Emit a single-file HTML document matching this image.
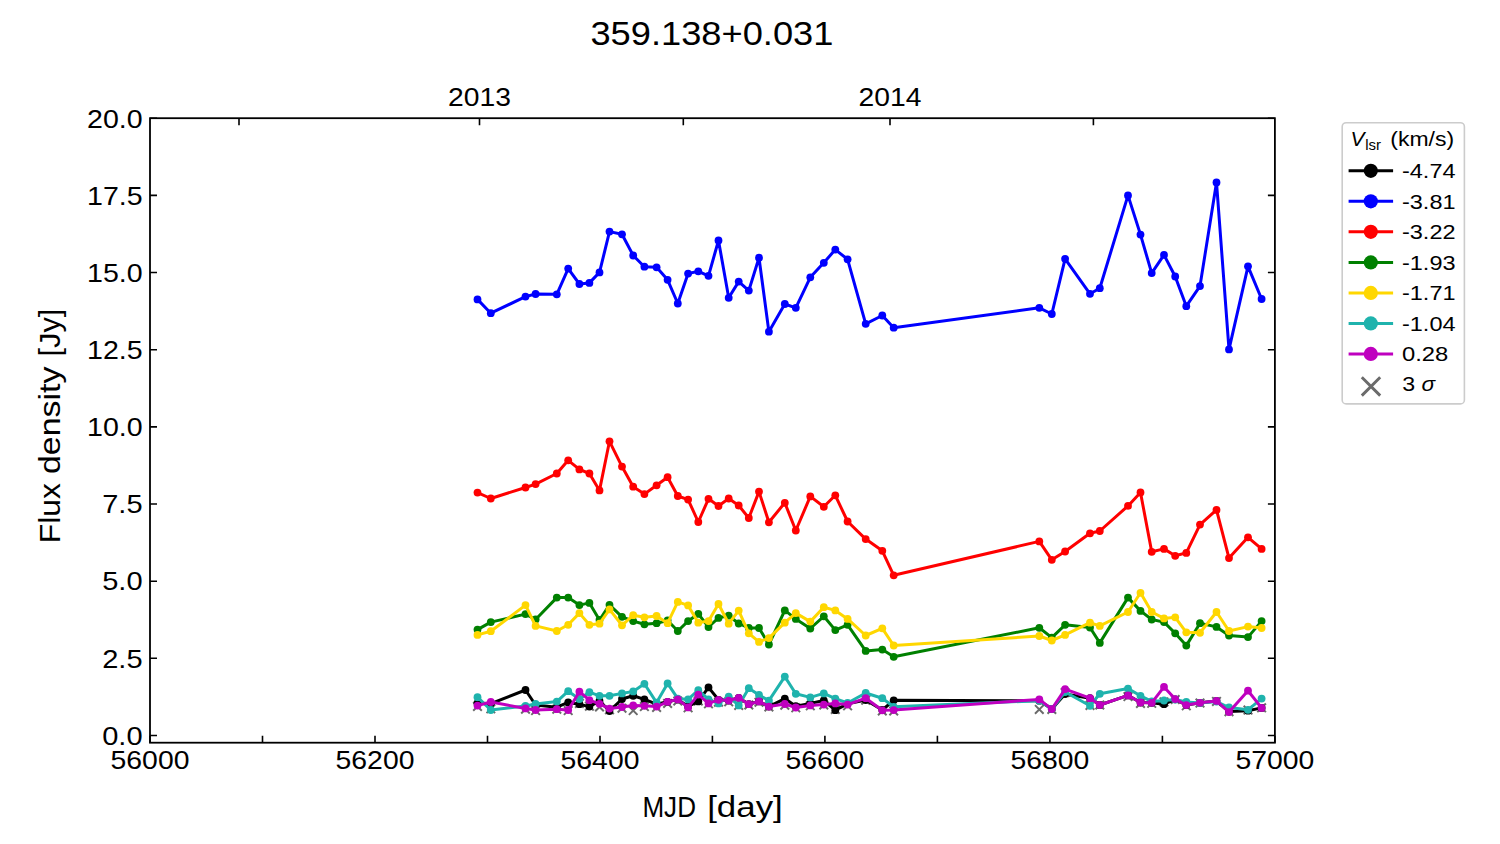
<!DOCTYPE html>
<html><head><meta charset="utf-8"><title>359.138+0.031</title>
<style>html,body{margin:0;padding:0;background:#fff;}svg{display:block;}</style>
</head><body>
<svg width="1500" height="844" viewBox="0 0 1500 844">
<rect width="1500" height="844" fill="#fff"/>
<path d="M473.2 702.1L481.8 710.7M473.2 710.7L481.8 702.1M486.5 704.5L495.1 713.1M486.5 713.1L495.1 704.5M521.2 704.9L529.8 713.5M521.2 713.5L529.8 704.9M531.3 706.3L539.9 714.9M531.3 714.9L539.9 706.3M552.5 704.9L561.1 713.5M552.5 713.5L561.1 704.9M563.9 706.3L572.5 714.9M563.9 714.9L572.5 706.3M575.1 699.1L583.7 707.7M575.1 707.7L583.7 699.1M585.1 701.9L593.7 710.5M585.1 710.5L593.7 701.9M595.2 702.7L603.8 711.3M595.2 711.3L603.8 702.7M605.2 705.5L613.8 714.1M605.2 714.1L613.8 705.5M617.7 703.9L626.3 712.5M617.7 712.5L626.3 703.9M628.9 706.3L637.5 714.9M628.9 714.9L637.5 706.3M640.1 702.3L648.7 710.9M640.1 710.9L648.7 702.3M652.3 703.1L660.9 711.7M652.3 711.7L660.9 703.1M663.3 699.1L671.9 707.7M663.3 707.7L671.9 699.1M673.5 696.7L682.1 705.3M673.5 705.3L682.1 696.7M683.8 703.5L692.4 712.1M683.8 712.1L692.4 703.5M694 696.7L702.6 705.3M694 705.3L702.6 696.7M704.2 699.5L712.8 708.1M704.2 708.1L712.8 699.5M714.2 697.9L722.8 706.5M714.2 706.5L722.8 697.9M724.4 697.5L733 706.1M724.4 706.1L733 697.5M734.4 701.1L743 709.7M734.4 709.7L743 701.1M744.5 700.7L753.1 709.3M744.5 709.3L753.1 700.7M754.7 697.9L763.3 706.5M754.7 706.5L763.3 697.9M764.6 702.7L773.2 711.3M764.6 711.3L773.2 702.7M780.5 700.9L789.1 709.5M780.5 709.5L789.1 700.9M791.5 703.5L800.1 712.1M791.5 712.1L800.1 703.5M806 701.5L814.6 710.1M806 710.1L814.6 701.5M819.5 700.7L828.1 709.3M819.5 709.3L828.1 700.7M831 705.1L839.6 713.7M831 713.7L839.6 705.1M843.3 701.5L851.9 710.1M843.3 710.1L851.9 701.5M861.4 695.9L870 704.5M861.4 704.5L870 695.9M878 706.7L886.6 715.3M878 715.3L886.6 706.7M889.4 706.7L898 715.3M889.4 715.3L898 706.7M1035 705.1L1043.6 713.7M1035 713.7L1043.6 705.1M1047.5 705.1L1056.1 713.7M1047.5 713.7L1056.1 705.1M1060.8 688.3L1069.4 696.9M1060.8 696.9L1069.4 688.3M1085.7 701.1L1094.3 709.7M1085.7 709.7L1094.3 701.1M1095.5 700.7L1104.1 709.3M1095.5 709.3L1104.1 700.7M1123.7 692.3L1132.3 700.9M1123.7 700.9L1132.3 692.3M1136.2 699.1L1144.8 707.7M1136.2 707.7L1144.8 699.1M1147.4 699L1156 707.6M1147.4 707.6L1156 699M1159.7 697.6L1168.3 706.2M1159.7 706.2L1168.3 697.6M1170.9 695.2L1179.5 703.8M1170.9 703.8L1179.5 695.2M1182 701.5L1190.6 710.1M1182 710.1L1190.6 701.5M1195.7 698.8L1204.3 707.4M1195.7 707.4L1204.3 698.8M1212.2 697.1L1220.8 705.7M1212.2 705.7L1220.8 697.1M1224.7 707.4L1233.3 716M1224.7 716L1233.3 707.4M1243.7 705.8L1252.3 714.4M1243.7 714.4L1252.3 705.8M1257.3 703.5L1265.9 712.1M1257.3 712.1L1265.9 703.5" stroke="#6b6b6b" stroke-width="2.0" fill="none"/>
<polyline points="477.5,703.2 490.8,703.6 525.5,690 535.6,705 556.8,707.2 568.2,702.4 579.4,704.2 589.4,706.6 599.5,701 609.5,711 622,699 633.2,695.8 644.4,699.4 656.6,704.2 667.6,701.8 677.8,699.6 688.1,706.5 698.3,701.4 708.5,687.4 718.5,699.8 728.7,700.6 738.7,697.8 748.8,704.2 759,701.4 768.9,706.6 784.8,698.6 795.8,706.2 810.3,703.4 823.8,700.5 835.3,710.2 847.6,703.8 865.7,700 882.3,710 893.7,700.3 1039.3,700.7 1051.8,709 1065.1,694 1090,698.2 1099.8,705 1128,695.4 1140.5,702.5 1151.7,702.8 1164,704.2 1175.2,699.3 1186.3,705 1200,702.8 1216.5,701 1229,711.5 1248,710.7 1261.6,707.9" fill="none" stroke="#000000" stroke-width="3.0" stroke-linejoin="round" stroke-linecap="round"/>
<g fill="#000000"><circle cx="477.5" cy="703.2" r="3.9"/><circle cx="490.8" cy="703.6" r="3.9"/><circle cx="525.5" cy="690" r="3.9"/><circle cx="535.6" cy="705" r="3.9"/><circle cx="556.8" cy="707.2" r="3.9"/><circle cx="568.2" cy="702.4" r="3.9"/><circle cx="579.4" cy="704.2" r="3.9"/><circle cx="589.4" cy="706.6" r="3.9"/><circle cx="599.5" cy="701" r="3.9"/><circle cx="609.5" cy="711" r="3.9"/><circle cx="622" cy="699" r="3.9"/><circle cx="633.2" cy="695.8" r="3.9"/><circle cx="644.4" cy="699.4" r="3.9"/><circle cx="656.6" cy="704.2" r="3.9"/><circle cx="667.6" cy="701.8" r="3.9"/><circle cx="677.8" cy="699.6" r="3.9"/><circle cx="688.1" cy="706.5" r="3.9"/><circle cx="698.3" cy="701.4" r="3.9"/><circle cx="708.5" cy="687.4" r="3.9"/><circle cx="718.5" cy="699.8" r="3.9"/><circle cx="728.7" cy="700.6" r="3.9"/><circle cx="738.7" cy="697.8" r="3.9"/><circle cx="748.8" cy="704.2" r="3.9"/><circle cx="759" cy="701.4" r="3.9"/><circle cx="768.9" cy="706.6" r="3.9"/><circle cx="784.8" cy="698.6" r="3.9"/><circle cx="795.8" cy="706.2" r="3.9"/><circle cx="810.3" cy="703.4" r="3.9"/><circle cx="823.8" cy="700.5" r="3.9"/><circle cx="835.3" cy="710.2" r="3.9"/><circle cx="847.6" cy="703.8" r="3.9"/><circle cx="865.7" cy="700" r="3.9"/><circle cx="882.3" cy="710" r="3.9"/><circle cx="893.7" cy="700.3" r="3.9"/><circle cx="1039.3" cy="700.7" r="3.9"/><circle cx="1051.8" cy="709" r="3.9"/><circle cx="1065.1" cy="694" r="3.9"/><circle cx="1090" cy="698.2" r="3.9"/><circle cx="1099.8" cy="705" r="3.9"/><circle cx="1128" cy="695.4" r="3.9"/><circle cx="1140.5" cy="702.5" r="3.9"/><circle cx="1151.7" cy="702.8" r="3.9"/><circle cx="1164" cy="704.2" r="3.9"/><circle cx="1175.2" cy="699.3" r="3.9"/><circle cx="1186.3" cy="705" r="3.9"/><circle cx="1200" cy="702.8" r="3.9"/><circle cx="1216.5" cy="701" r="3.9"/><circle cx="1229" cy="711.5" r="3.9"/><circle cx="1248" cy="710.7" r="3.9"/><circle cx="1261.6" cy="707.9" r="3.9"/></g>
<polyline points="477.5,299.4 490.8,313.2 525.5,296.6 535.6,294 556.8,294.3 568.2,268.6 579.4,284 589.4,282.9 599.5,272.4 609.5,231.6 622,234.3 633.2,255.5 644.4,266.7 656.6,267.3 667.6,279.8 677.8,303.5 688.1,273.6 698.3,271.3 708.5,275.8 718.5,240.5 728.7,297.8 738.7,281.6 748.8,290.6 759,257.7 768.9,331.7 784.8,304 795.8,307.8 810.3,277.3 823.8,262.8 835.3,249.6 847.6,259.3 865.7,323.8 882.3,315.5 893.7,327.7 1039.3,307.8 1051.8,314 1065.1,258.8 1090,293.8 1099.8,288.2 1128,195.4 1140.5,234.6 1151.7,273.1 1164,254.9 1175.2,276.5 1186.3,306.2 1200,286.1 1216.5,182.4 1229,349.4 1248,266.3 1261.6,299" fill="none" stroke="#0000ff" stroke-width="3.0" stroke-linejoin="round" stroke-linecap="round"/>
<g fill="#0000ff"><circle cx="477.5" cy="299.4" r="3.9"/><circle cx="490.8" cy="313.2" r="3.9"/><circle cx="525.5" cy="296.6" r="3.9"/><circle cx="535.6" cy="294" r="3.9"/><circle cx="556.8" cy="294.3" r="3.9"/><circle cx="568.2" cy="268.6" r="3.9"/><circle cx="579.4" cy="284" r="3.9"/><circle cx="589.4" cy="282.9" r="3.9"/><circle cx="599.5" cy="272.4" r="3.9"/><circle cx="609.5" cy="231.6" r="3.9"/><circle cx="622" cy="234.3" r="3.9"/><circle cx="633.2" cy="255.5" r="3.9"/><circle cx="644.4" cy="266.7" r="3.9"/><circle cx="656.6" cy="267.3" r="3.9"/><circle cx="667.6" cy="279.8" r="3.9"/><circle cx="677.8" cy="303.5" r="3.9"/><circle cx="688.1" cy="273.6" r="3.9"/><circle cx="698.3" cy="271.3" r="3.9"/><circle cx="708.5" cy="275.8" r="3.9"/><circle cx="718.5" cy="240.5" r="3.9"/><circle cx="728.7" cy="297.8" r="3.9"/><circle cx="738.7" cy="281.6" r="3.9"/><circle cx="748.8" cy="290.6" r="3.9"/><circle cx="759" cy="257.7" r="3.9"/><circle cx="768.9" cy="331.7" r="3.9"/><circle cx="784.8" cy="304" r="3.9"/><circle cx="795.8" cy="307.8" r="3.9"/><circle cx="810.3" cy="277.3" r="3.9"/><circle cx="823.8" cy="262.8" r="3.9"/><circle cx="835.3" cy="249.6" r="3.9"/><circle cx="847.6" cy="259.3" r="3.9"/><circle cx="865.7" cy="323.8" r="3.9"/><circle cx="882.3" cy="315.5" r="3.9"/><circle cx="893.7" cy="327.7" r="3.9"/><circle cx="1039.3" cy="307.8" r="3.9"/><circle cx="1051.8" cy="314" r="3.9"/><circle cx="1065.1" cy="258.8" r="3.9"/><circle cx="1090" cy="293.8" r="3.9"/><circle cx="1099.8" cy="288.2" r="3.9"/><circle cx="1128" cy="195.4" r="3.9"/><circle cx="1140.5" cy="234.6" r="3.9"/><circle cx="1151.7" cy="273.1" r="3.9"/><circle cx="1164" cy="254.9" r="3.9"/><circle cx="1175.2" cy="276.5" r="3.9"/><circle cx="1186.3" cy="306.2" r="3.9"/><circle cx="1200" cy="286.1" r="3.9"/><circle cx="1216.5" cy="182.4" r="3.9"/><circle cx="1229" cy="349.4" r="3.9"/><circle cx="1248" cy="266.3" r="3.9"/><circle cx="1261.6" cy="299" r="3.9"/></g>
<polyline points="477.5,492.6 490.8,498.5 525.5,487.5 535.6,484.1 556.8,473.5 568.2,460.3 579.4,469.4 589.4,473.5 599.5,490.4 609.5,441.3 622,466.6 633.2,486.7 644.4,494.1 656.6,485.3 667.6,477.2 677.8,496 688.1,499.6 698.3,522 708.5,498.8 718.5,506 728.7,498.5 738.7,505.5 748.8,518 759,491.6 768.9,522.3 784.8,502.8 795.8,530.5 810.3,496.4 823.8,506.8 835.3,495.3 847.6,521.5 865.7,539.1 882.3,550.8 893.7,575.3 1039.3,541.4 1051.8,559.8 1065.1,551.5 1090,533.3 1099.8,531 1128,505.9 1140.5,492.5 1151.7,551.8 1164,548.9 1175.2,555.8 1186.3,552.9 1200,524.6 1216.5,509.9 1229,558.1 1248,537.3 1261.6,548.9" fill="none" stroke="#ff0000" stroke-width="3.0" stroke-linejoin="round" stroke-linecap="round"/>
<g fill="#ff0000"><circle cx="477.5" cy="492.6" r="3.9"/><circle cx="490.8" cy="498.5" r="3.9"/><circle cx="525.5" cy="487.5" r="3.9"/><circle cx="535.6" cy="484.1" r="3.9"/><circle cx="556.8" cy="473.5" r="3.9"/><circle cx="568.2" cy="460.3" r="3.9"/><circle cx="579.4" cy="469.4" r="3.9"/><circle cx="589.4" cy="473.5" r="3.9"/><circle cx="599.5" cy="490.4" r="3.9"/><circle cx="609.5" cy="441.3" r="3.9"/><circle cx="622" cy="466.6" r="3.9"/><circle cx="633.2" cy="486.7" r="3.9"/><circle cx="644.4" cy="494.1" r="3.9"/><circle cx="656.6" cy="485.3" r="3.9"/><circle cx="667.6" cy="477.2" r="3.9"/><circle cx="677.8" cy="496" r="3.9"/><circle cx="688.1" cy="499.6" r="3.9"/><circle cx="698.3" cy="522" r="3.9"/><circle cx="708.5" cy="498.8" r="3.9"/><circle cx="718.5" cy="506" r="3.9"/><circle cx="728.7" cy="498.5" r="3.9"/><circle cx="738.7" cy="505.5" r="3.9"/><circle cx="748.8" cy="518" r="3.9"/><circle cx="759" cy="491.6" r="3.9"/><circle cx="768.9" cy="522.3" r="3.9"/><circle cx="784.8" cy="502.8" r="3.9"/><circle cx="795.8" cy="530.5" r="3.9"/><circle cx="810.3" cy="496.4" r="3.9"/><circle cx="823.8" cy="506.8" r="3.9"/><circle cx="835.3" cy="495.3" r="3.9"/><circle cx="847.6" cy="521.5" r="3.9"/><circle cx="865.7" cy="539.1" r="3.9"/><circle cx="882.3" cy="550.8" r="3.9"/><circle cx="893.7" cy="575.3" r="3.9"/><circle cx="1039.3" cy="541.4" r="3.9"/><circle cx="1051.8" cy="559.8" r="3.9"/><circle cx="1065.1" cy="551.5" r="3.9"/><circle cx="1090" cy="533.3" r="3.9"/><circle cx="1099.8" cy="531" r="3.9"/><circle cx="1128" cy="505.9" r="3.9"/><circle cx="1140.5" cy="492.5" r="3.9"/><circle cx="1151.7" cy="551.8" r="3.9"/><circle cx="1164" cy="548.9" r="3.9"/><circle cx="1175.2" cy="555.8" r="3.9"/><circle cx="1186.3" cy="552.9" r="3.9"/><circle cx="1200" cy="524.6" r="3.9"/><circle cx="1216.5" cy="509.9" r="3.9"/><circle cx="1229" cy="558.1" r="3.9"/><circle cx="1248" cy="537.3" r="3.9"/><circle cx="1261.6" cy="548.9" r="3.9"/></g>
<polyline points="477.5,629.6 490.8,622.1 525.5,614.1 535.6,619.5 556.8,597.6 568.2,597.6 579.4,605.1 589.4,602.9 599.5,620 609.5,604.8 622,616.8 633.2,621.1 644.4,624.3 656.6,623.2 667.6,620.5 677.8,631 688.1,621.1 698.3,613.9 708.5,627 718.5,617.9 728.7,615.7 738.7,623.5 748.8,628 759,628 768.9,644.5 784.8,610.4 795.8,618.9 810.3,628.5 823.8,616.3 835.3,630.1 847.6,624.8 865.7,650.9 882.3,649.6 893.7,656.8 1039.3,627.8 1051.8,637.6 1065.1,624.8 1090,627.5 1099.8,642.9 1128,597.6 1140.5,610.9 1151.7,619.5 1164,622.1 1175.2,633.3 1186.3,645.6 1200,623.2 1216.5,626.9 1229,635.5 1248,637.1 1261.6,621.1" fill="none" stroke="#008000" stroke-width="3.0" stroke-linejoin="round" stroke-linecap="round"/>
<g fill="#008000"><circle cx="477.5" cy="629.6" r="3.9"/><circle cx="490.8" cy="622.1" r="3.9"/><circle cx="525.5" cy="614.1" r="3.9"/><circle cx="535.6" cy="619.5" r="3.9"/><circle cx="556.8" cy="597.6" r="3.9"/><circle cx="568.2" cy="597.6" r="3.9"/><circle cx="579.4" cy="605.1" r="3.9"/><circle cx="589.4" cy="602.9" r="3.9"/><circle cx="599.5" cy="620" r="3.9"/><circle cx="609.5" cy="604.8" r="3.9"/><circle cx="622" cy="616.8" r="3.9"/><circle cx="633.2" cy="621.1" r="3.9"/><circle cx="644.4" cy="624.3" r="3.9"/><circle cx="656.6" cy="623.2" r="3.9"/><circle cx="667.6" cy="620.5" r="3.9"/><circle cx="677.8" cy="631" r="3.9"/><circle cx="688.1" cy="621.1" r="3.9"/><circle cx="698.3" cy="613.9" r="3.9"/><circle cx="708.5" cy="627" r="3.9"/><circle cx="718.5" cy="617.9" r="3.9"/><circle cx="728.7" cy="615.7" r="3.9"/><circle cx="738.7" cy="623.5" r="3.9"/><circle cx="748.8" cy="628" r="3.9"/><circle cx="759" cy="628" r="3.9"/><circle cx="768.9" cy="644.5" r="3.9"/><circle cx="784.8" cy="610.4" r="3.9"/><circle cx="795.8" cy="618.9" r="3.9"/><circle cx="810.3" cy="628.5" r="3.9"/><circle cx="823.8" cy="616.3" r="3.9"/><circle cx="835.3" cy="630.1" r="3.9"/><circle cx="847.6" cy="624.8" r="3.9"/><circle cx="865.7" cy="650.9" r="3.9"/><circle cx="882.3" cy="649.6" r="3.9"/><circle cx="893.7" cy="656.8" r="3.9"/><circle cx="1039.3" cy="627.8" r="3.9"/><circle cx="1051.8" cy="637.6" r="3.9"/><circle cx="1065.1" cy="624.8" r="3.9"/><circle cx="1090" cy="627.5" r="3.9"/><circle cx="1099.8" cy="642.9" r="3.9"/><circle cx="1128" cy="597.6" r="3.9"/><circle cx="1140.5" cy="610.9" r="3.9"/><circle cx="1151.7" cy="619.5" r="3.9"/><circle cx="1164" cy="622.1" r="3.9"/><circle cx="1175.2" cy="633.3" r="3.9"/><circle cx="1186.3" cy="645.6" r="3.9"/><circle cx="1200" cy="623.2" r="3.9"/><circle cx="1216.5" cy="626.9" r="3.9"/><circle cx="1229" cy="635.5" r="3.9"/><circle cx="1248" cy="637.1" r="3.9"/><circle cx="1261.6" cy="621.1" r="3.9"/></g>
<polyline points="477.5,634.9 490.8,631.2 525.5,605.1 535.6,625.9 556.8,631 568.2,624.8 579.4,613.1 589.4,624.8 599.5,623.7 609.5,609.4 622,625.3 633.2,615.2 644.4,617.3 656.6,616 667.6,623.2 677.8,601.9 688.1,605.4 698.3,622.7 708.5,621.1 718.5,604 728.7,623.7 738.7,610.6 748.8,633.3 759,641.9 768.9,638.1 784.8,622.7 795.8,613.1 810.3,621.6 823.8,607.2 835.3,610.4 847.6,618.9 865.7,635.5 882.3,628.3 893.7,645.5 1039.3,636 1051.8,640.5 1065.1,634.9 1090,622.7 1099.8,625.9 1128,612 1140.5,592.8 1151.7,612 1164,618.4 1175.2,617.3 1186.3,632.3 1200,632.8 1216.5,612 1229,631 1248,626.6 1261.6,628" fill="none" stroke="#ffd700" stroke-width="3.0" stroke-linejoin="round" stroke-linecap="round"/>
<g fill="#ffd700"><circle cx="477.5" cy="634.9" r="3.9"/><circle cx="490.8" cy="631.2" r="3.9"/><circle cx="525.5" cy="605.1" r="3.9"/><circle cx="535.6" cy="625.9" r="3.9"/><circle cx="556.8" cy="631" r="3.9"/><circle cx="568.2" cy="624.8" r="3.9"/><circle cx="579.4" cy="613.1" r="3.9"/><circle cx="589.4" cy="624.8" r="3.9"/><circle cx="599.5" cy="623.7" r="3.9"/><circle cx="609.5" cy="609.4" r="3.9"/><circle cx="622" cy="625.3" r="3.9"/><circle cx="633.2" cy="615.2" r="3.9"/><circle cx="644.4" cy="617.3" r="3.9"/><circle cx="656.6" cy="616" r="3.9"/><circle cx="667.6" cy="623.2" r="3.9"/><circle cx="677.8" cy="601.9" r="3.9"/><circle cx="688.1" cy="605.4" r="3.9"/><circle cx="698.3" cy="622.7" r="3.9"/><circle cx="708.5" cy="621.1" r="3.9"/><circle cx="718.5" cy="604" r="3.9"/><circle cx="728.7" cy="623.7" r="3.9"/><circle cx="738.7" cy="610.6" r="3.9"/><circle cx="748.8" cy="633.3" r="3.9"/><circle cx="759" cy="641.9" r="3.9"/><circle cx="768.9" cy="638.1" r="3.9"/><circle cx="784.8" cy="622.7" r="3.9"/><circle cx="795.8" cy="613.1" r="3.9"/><circle cx="810.3" cy="621.6" r="3.9"/><circle cx="823.8" cy="607.2" r="3.9"/><circle cx="835.3" cy="610.4" r="3.9"/><circle cx="847.6" cy="618.9" r="3.9"/><circle cx="865.7" cy="635.5" r="3.9"/><circle cx="882.3" cy="628.3" r="3.9"/><circle cx="893.7" cy="645.5" r="3.9"/><circle cx="1039.3" cy="636" r="3.9"/><circle cx="1051.8" cy="640.5" r="3.9"/><circle cx="1065.1" cy="634.9" r="3.9"/><circle cx="1090" cy="622.7" r="3.9"/><circle cx="1099.8" cy="625.9" r="3.9"/><circle cx="1128" cy="612" r="3.9"/><circle cx="1140.5" cy="592.8" r="3.9"/><circle cx="1151.7" cy="612" r="3.9"/><circle cx="1164" cy="618.4" r="3.9"/><circle cx="1175.2" cy="617.3" r="3.9"/><circle cx="1186.3" cy="632.3" r="3.9"/><circle cx="1200" cy="632.8" r="3.9"/><circle cx="1216.5" cy="612" r="3.9"/><circle cx="1229" cy="631" r="3.9"/><circle cx="1248" cy="626.6" r="3.9"/><circle cx="1261.6" cy="628" r="3.9"/></g>
<polyline points="477.5,697.2 490.8,710 525.5,706 535.6,704 556.8,701.6 568.2,691.2 579.4,699 589.4,692.2 599.5,695.8 609.5,695.8 622,693.4 633.2,691.4 644.4,683.8 656.6,702.6 667.6,683.4 677.8,698.6 688.1,699.4 698.3,690.2 708.5,699.4 718.5,703.4 728.7,696.6 738.7,705.4 748.8,688.2 759,695 768.9,700.6 784.8,676.6 795.8,693.8 810.3,697.4 823.8,693.4 835.3,698.6 847.6,703 865.7,693 882.3,698.2 893.7,706.8 1039.3,700.7 1051.8,709 1065.1,692 1090,705.8 1099.8,693.8 1128,688.6 1140.5,695.8 1151.7,701.4 1164,700.5 1175.2,699.5 1186.3,701.9 1200,703 1216.5,701.5 1229,707.5 1248,709.8 1261.6,698.6" fill="none" stroke="#1fb3ad" stroke-width="3.0" stroke-linejoin="round" stroke-linecap="round"/>
<g fill="#1fb3ad"><circle cx="477.5" cy="697.2" r="3.9"/><circle cx="490.8" cy="710" r="3.9"/><circle cx="525.5" cy="706" r="3.9"/><circle cx="535.6" cy="704" r="3.9"/><circle cx="556.8" cy="701.6" r="3.9"/><circle cx="568.2" cy="691.2" r="3.9"/><circle cx="579.4" cy="699" r="3.9"/><circle cx="589.4" cy="692.2" r="3.9"/><circle cx="599.5" cy="695.8" r="3.9"/><circle cx="609.5" cy="695.8" r="3.9"/><circle cx="622" cy="693.4" r="3.9"/><circle cx="633.2" cy="691.4" r="3.9"/><circle cx="644.4" cy="683.8" r="3.9"/><circle cx="656.6" cy="702.6" r="3.9"/><circle cx="667.6" cy="683.4" r="3.9"/><circle cx="677.8" cy="698.6" r="3.9"/><circle cx="688.1" cy="699.4" r="3.9"/><circle cx="698.3" cy="690.2" r="3.9"/><circle cx="708.5" cy="699.4" r="3.9"/><circle cx="718.5" cy="703.4" r="3.9"/><circle cx="728.7" cy="696.6" r="3.9"/><circle cx="738.7" cy="705.4" r="3.9"/><circle cx="748.8" cy="688.2" r="3.9"/><circle cx="759" cy="695" r="3.9"/><circle cx="768.9" cy="700.6" r="3.9"/><circle cx="784.8" cy="676.6" r="3.9"/><circle cx="795.8" cy="693.8" r="3.9"/><circle cx="810.3" cy="697.4" r="3.9"/><circle cx="823.8" cy="693.4" r="3.9"/><circle cx="835.3" cy="698.6" r="3.9"/><circle cx="847.6" cy="703" r="3.9"/><circle cx="865.7" cy="693" r="3.9"/><circle cx="882.3" cy="698.2" r="3.9"/><circle cx="893.7" cy="706.8" r="3.9"/><circle cx="1039.3" cy="700.7" r="3.9"/><circle cx="1051.8" cy="709" r="3.9"/><circle cx="1065.1" cy="692" r="3.9"/><circle cx="1090" cy="705.8" r="3.9"/><circle cx="1099.8" cy="693.8" r="3.9"/><circle cx="1128" cy="688.6" r="3.9"/><circle cx="1140.5" cy="695.8" r="3.9"/><circle cx="1151.7" cy="701.4" r="3.9"/><circle cx="1164" cy="700.5" r="3.9"/><circle cx="1175.2" cy="699.5" r="3.9"/><circle cx="1186.3" cy="701.9" r="3.9"/><circle cx="1200" cy="703" r="3.9"/><circle cx="1216.5" cy="701.5" r="3.9"/><circle cx="1229" cy="707.5" r="3.9"/><circle cx="1248" cy="709.8" r="3.9"/><circle cx="1261.6" cy="698.6" r="3.9"/></g>
<polyline points="477.5,705.6 490.8,702 525.5,708.4 535.6,710 556.8,709.2 568.2,710 579.4,691.7 589.4,700.2 599.5,703.8 609.5,708.6 622,707 633.2,705.4 644.4,705.8 656.6,706.6 667.6,701.8 677.8,699.4 688.1,707.4 698.3,694.6 708.5,703.4 718.5,699.8 728.7,700.6 738.7,697.8 748.8,704.2 759,701.4 768.9,706.6 784.8,704 795.8,707.5 810.3,705.4 823.8,704.6 835.3,703.4 847.6,704.6 865.7,698.2 882.3,710.3 893.7,710.1 1039.3,699.4 1051.8,709.1 1065.1,689.1 1090,698.2 1099.8,705 1128,695.4 1140.5,702.5 1151.7,702.8 1164,686.9 1175.2,699.1 1186.3,705.1 1200,702.8 1216.5,700.9 1229,712.1 1248,690.7 1261.6,707.9" fill="none" stroke="#bf00bf" stroke-width="3.0" stroke-linejoin="round" stroke-linecap="round"/>
<g fill="#bf00bf"><circle cx="477.5" cy="705.6" r="3.9"/><circle cx="490.8" cy="702" r="3.9"/><circle cx="525.5" cy="708.4" r="3.9"/><circle cx="535.6" cy="710" r="3.9"/><circle cx="556.8" cy="709.2" r="3.9"/><circle cx="568.2" cy="710" r="3.9"/><circle cx="579.4" cy="691.7" r="3.9"/><circle cx="589.4" cy="700.2" r="3.9"/><circle cx="599.5" cy="703.8" r="3.9"/><circle cx="609.5" cy="708.6" r="3.9"/><circle cx="622" cy="707" r="3.9"/><circle cx="633.2" cy="705.4" r="3.9"/><circle cx="644.4" cy="705.8" r="3.9"/><circle cx="656.6" cy="706.6" r="3.9"/><circle cx="667.6" cy="701.8" r="3.9"/><circle cx="677.8" cy="699.4" r="3.9"/><circle cx="688.1" cy="707.4" r="3.9"/><circle cx="698.3" cy="694.6" r="3.9"/><circle cx="708.5" cy="703.4" r="3.9"/><circle cx="718.5" cy="699.8" r="3.9"/><circle cx="728.7" cy="700.6" r="3.9"/><circle cx="738.7" cy="697.8" r="3.9"/><circle cx="748.8" cy="704.2" r="3.9"/><circle cx="759" cy="701.4" r="3.9"/><circle cx="768.9" cy="706.6" r="3.9"/><circle cx="784.8" cy="704" r="3.9"/><circle cx="795.8" cy="707.5" r="3.9"/><circle cx="810.3" cy="705.4" r="3.9"/><circle cx="823.8" cy="704.6" r="3.9"/><circle cx="835.3" cy="703.4" r="3.9"/><circle cx="847.6" cy="704.6" r="3.9"/><circle cx="865.7" cy="698.2" r="3.9"/><circle cx="882.3" cy="710.3" r="3.9"/><circle cx="893.7" cy="710.1" r="3.9"/><circle cx="1039.3" cy="699.4" r="3.9"/><circle cx="1051.8" cy="709.1" r="3.9"/><circle cx="1065.1" cy="689.1" r="3.9"/><circle cx="1090" cy="698.2" r="3.9"/><circle cx="1099.8" cy="705" r="3.9"/><circle cx="1128" cy="695.4" r="3.9"/><circle cx="1140.5" cy="702.5" r="3.9"/><circle cx="1151.7" cy="702.8" r="3.9"/><circle cx="1164" cy="686.9" r="3.9"/><circle cx="1175.2" cy="699.1" r="3.9"/><circle cx="1186.3" cy="705.1" r="3.9"/><circle cx="1200" cy="702.8" r="3.9"/><circle cx="1216.5" cy="700.9" r="3.9"/><circle cx="1229" cy="712.1" r="3.9"/><circle cx="1248" cy="690.7" r="3.9"/><circle cx="1261.6" cy="707.9" r="3.9"/></g>
<path d="M150 735.5h7.0M1274.9 735.5h-7.0M150 658.3h7.0M1274.9 658.3h-7.0M150 581.2h7.0M1274.9 581.2h-7.0M150 504h7.0M1274.9 504h-7.0M150 426.9h7.0M1274.9 426.9h-7.0M150 349.7h7.0M1274.9 349.7h-7.0M150 272.5h7.0M1274.9 272.5h-7.0M150 195.4h7.0M1274.9 195.4h-7.0M150 118.2h7.0M1274.9 118.2h-7.0M150 742.7v-7.0M262.5 742.7v-7.0M375 742.7v-7.0M487.5 742.7v-7.0M600 742.7v-7.0M712.4 742.7v-7.0M824.9 742.7v-7.0M937.4 742.7v-7.0M1049.9 742.7v-7.0M1162.4 742.7v-7.0M1274.9 742.7v-7.0M239 118.2v7.0M479.5 118.2v7.0M683.3 118.2v7.0M890 118.2v7.0M1093.4 118.2v7.0" stroke="#000" stroke-width="1.6" fill="none"/>
<rect x="150.0" y="118.2" width="1124.9" height="624.5" fill="none" stroke="#000" stroke-width="1.8"/>
<g font-family="Liberation Sans, sans-serif" fill="#000"><text x="142.6" y="744.8" text-anchor="end" font-size="25" textLength="40.4" lengthAdjust="spacingAndGlyphs">0.0</text>
<text x="142.6" y="667.6" text-anchor="end" font-size="25" textLength="40.4" lengthAdjust="spacingAndGlyphs">2.5</text>
<text x="142.6" y="590.4" text-anchor="end" font-size="25" textLength="40.4" lengthAdjust="spacingAndGlyphs">5.0</text>
<text x="142.6" y="513.3" text-anchor="end" font-size="25" textLength="40.4" lengthAdjust="spacingAndGlyphs">7.5</text>
<text x="142.6" y="436.1" text-anchor="end" font-size="25" textLength="55.6" lengthAdjust="spacingAndGlyphs">10.0</text>
<text x="142.6" y="358.9" text-anchor="end" font-size="25" textLength="55.6" lengthAdjust="spacingAndGlyphs">12.5</text>
<text x="142.6" y="281.8" text-anchor="end" font-size="25" textLength="55.6" lengthAdjust="spacingAndGlyphs">15.0</text>
<text x="142.6" y="204.6" text-anchor="end" font-size="25" textLength="55.6" lengthAdjust="spacingAndGlyphs">17.5</text>
<text x="142.6" y="127.5" text-anchor="end" font-size="25" textLength="55.6" lengthAdjust="spacingAndGlyphs">20.0</text>
<text x="150" y="769.2" text-anchor="middle" font-size="25" textLength="78.9" lengthAdjust="spacingAndGlyphs">56000</text>
<text x="375" y="769.2" text-anchor="middle" font-size="25" textLength="78.9" lengthAdjust="spacingAndGlyphs">56200</text>
<text x="600" y="769.2" text-anchor="middle" font-size="25" textLength="78.9" lengthAdjust="spacingAndGlyphs">56400</text>
<text x="824.9" y="769.2" text-anchor="middle" font-size="25" textLength="78.9" lengthAdjust="spacingAndGlyphs">56600</text>
<text x="1049.9" y="769.2" text-anchor="middle" font-size="25" textLength="78.9" lengthAdjust="spacingAndGlyphs">56800</text>
<text x="1274.9" y="769.2" text-anchor="middle" font-size="25" textLength="78.9" lengthAdjust="spacingAndGlyphs">57000</text>
<text x="479.5" y="105.9" text-anchor="middle" font-size="25" textLength="62.9" lengthAdjust="spacingAndGlyphs">2013</text>
<text x="890" y="105.9" text-anchor="middle" font-size="25" textLength="62.9" lengthAdjust="spacingAndGlyphs">2014</text>
<text x="711.9" y="44.9" text-anchor="middle" font-size="32.5" textLength="243" lengthAdjust="spacingAndGlyphs">359.138+0.031</text>
<text x="642.4" y="816.8" font-size="29.5" textLength="53.6" lengthAdjust="spacingAndGlyphs">MJD</text>
<text x="707.2" y="816.8" font-size="29.5" textLength="75.6" lengthAdjust="spacingAndGlyphs">[day]</text>
<text transform="translate(60.2 543.2) rotate(-90)" x="0" y="0" font-size="29.5" textLength="60" lengthAdjust="spacingAndGlyphs">Flux</text>
<text transform="translate(60.2 474) rotate(-90)" x="0" y="0" font-size="29.5" textLength="107.5" lengthAdjust="spacingAndGlyphs">density</text>
<text transform="translate(60.2 356.6) rotate(-90)" x="0" y="0" font-size="29.5" textLength="48" lengthAdjust="spacingAndGlyphs">[Jy]</text></g>
<g font-family="Liberation Sans, sans-serif" fill="#000"><rect x="1342.2" y="122.7" width="122.2" height="281.2" rx="4" ry="4" fill="#fff" fill-opacity="0.8" stroke="#cccccc" stroke-width="1.6"/>
<text x="1350.6" y="146.4" font-size="21" font-style="italic">V</text>
<text x="1365.3" y="149.7" font-size="14" textLength="15.8" lengthAdjust="spacingAndGlyphs">lsr</text>
<text x="1390.3" y="146" font-size="20" textLength="63.8" lengthAdjust="spacingAndGlyphs">(km/s)</text>
<path d="M1348.6 170.8H1393.1" stroke="#000000" stroke-width="3.0"/>
<circle cx="1370.8" cy="170.8" r="7.1" fill="#000000"/>
<text x="1402" y="178" font-size="20" textLength="53.5" lengthAdjust="spacingAndGlyphs">-4.74</text>
<path d="M1348.6 201.3H1393.1" stroke="#0000ff" stroke-width="3.0"/>
<circle cx="1370.8" cy="201.3" r="7.1" fill="#0000ff"/>
<text x="1402" y="208.5" font-size="20" textLength="53.5" lengthAdjust="spacingAndGlyphs">-3.81</text>
<path d="M1348.6 231.8H1393.1" stroke="#ff0000" stroke-width="3.0"/>
<circle cx="1370.8" cy="231.8" r="7.1" fill="#ff0000"/>
<text x="1402" y="239" font-size="20" textLength="53.5" lengthAdjust="spacingAndGlyphs">-3.22</text>
<path d="M1348.6 262.4H1393.1" stroke="#008000" stroke-width="3.0"/>
<circle cx="1370.8" cy="262.4" r="7.1" fill="#008000"/>
<text x="1402" y="269.6" font-size="20" textLength="53.5" lengthAdjust="spacingAndGlyphs">-1.93</text>
<path d="M1348.6 292.9H1393.1" stroke="#ffd700" stroke-width="3.0"/>
<circle cx="1370.8" cy="292.9" r="7.1" fill="#ffd700"/>
<text x="1402" y="300.1" font-size="20" textLength="53.5" lengthAdjust="spacingAndGlyphs">-1.71</text>
<path d="M1348.6 323.4H1393.1" stroke="#1fb3ad" stroke-width="3.0"/>
<circle cx="1370.8" cy="323.4" r="7.1" fill="#1fb3ad"/>
<text x="1402" y="330.6" font-size="20" textLength="53.5" lengthAdjust="spacingAndGlyphs">-1.04</text>
<path d="M1348.6 353.9H1393.1" stroke="#bf00bf" stroke-width="3.0"/>
<circle cx="1370.8" cy="353.9" r="7.1" fill="#bf00bf"/>
<text x="1402" y="361.1" font-size="20" textLength="46.3" lengthAdjust="spacingAndGlyphs">0.28</text>
<path d="M1361.8 377.2L1380.2 395.6M1361.8 395.6L1380.2 377.2" stroke="#6b6b6b" stroke-width="2.9"/>
<text x="1402.3" y="390.8" font-size="20.5" textLength="12.9" lengthAdjust="spacingAndGlyphs">3</text><text x="1421.6" y="390.8" font-size="21" font-style="italic" textLength="13.6" lengthAdjust="spacingAndGlyphs">σ</text></g>
</svg>
</body></html>
